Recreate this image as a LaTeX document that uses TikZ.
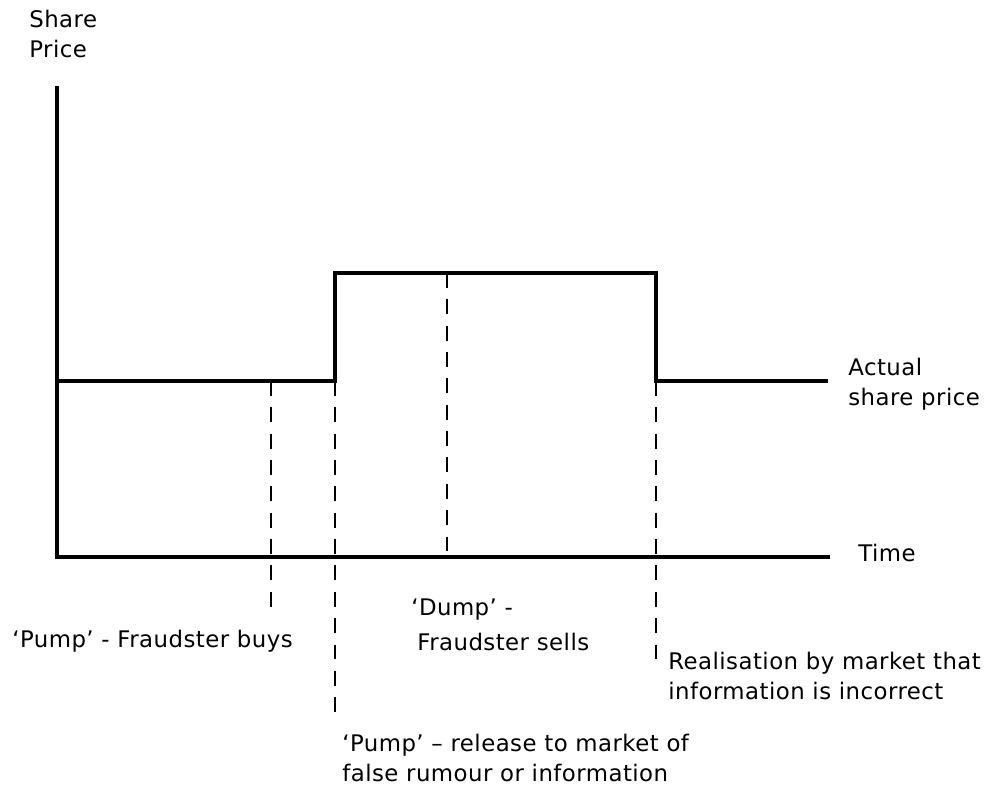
\documentclass[tikz,border=0pt]{standalone}
\usepackage{fontspec}
\setmainfont{DejaVu Sans}[LetterSpace=2]
\usepackage{tikz}
\usetikzlibrary{positioning,calc}

\tikzset{
    axisline/.style={line width=2.2pt, line cap=rect},
    priceline/.style={line width=2.2pt, line join=miter},
    guide/.style={line width=1.2pt, dash pattern=on 8.5pt off 6.5pt},
    lbl/.style={inner sep=0pt, anchor=west, align=left, font=\fontsize{13}{17}\selectfont}
}

\begin{document}
\begin{tikzpicture}[x=0.02cm, y=-0.02cm]
        \useasboundingbox (0,0) rectangle (1004,787);

        % axes
        \coordinate (origin) at (57,557);
        \coordinate (ytop) at (57,88);
        \coordinate (xend) at (828,557);
        \draw [axisline] (ytop) -- (origin) -- (xend);
        \node [lbl] (yname) at (29,34) {Share\\Price};
        \node [lbl] (xname) at (858,553) {Time};

        % share price
        \coordinate (p0) at (57,381);
        \coordinate (p1) at (335,381);
        \coordinate (p2) at (335,273);
        \coordinate (p3) at (656,273);
        \coordinate (p4) at (656,381);
        \coordinate (p5) at (828,381);
        \draw [priceline] (p0) -- (p1) -- (p2) -- (p3) -- (p4) -- (p5);
        \node [lbl] (actual) at (848,384) {Actual\\share price};

        % events
        \coordinate (buytop) at (271,381);
        \coordinate (buyend) at (271,616);
        \coordinate (pumpend) at (335,720);
        \coordinate (dumptop) at (447,273);
        \coordinate (dumpend) at (447,557);
        \coordinate (realend) at (656,666);
        \draw [guide] (buytop) -- (buyend);
        \draw [guide] (p1) -- (pumpend);
        \draw [guide] (dumptop) -- (dumpend);
        \draw [guide] (p4) -- (realend);
        \draw [line width=1.2pt] ($(dumpend)+(-5,0)$) -- ($(dumpend)+(5,0)$);

        \node [lbl] (buy) at (12,641) {‘Pump’ - Fraudster buys};
        \node [lbl] (dump) at (411,625) {‘Dump’ -\\[3pt]\hspace{0.12cm}Fraudster sells};
        \node [lbl] (real) at (668,676) {Realisation by market that\\information is incorrect};
        \node [lbl] (pump) at (342,758) {‘Pump’ – release to market of\\false rumour or information};
    \end{tikzpicture}
\end{document}
